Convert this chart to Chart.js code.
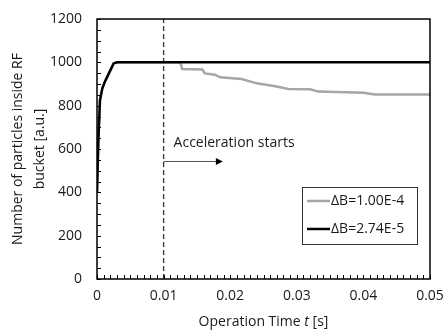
<!DOCTYPE html>
<html>
<head>
<meta charset="utf-8">
<script src="https://cdn.jsdelivr.net/npm/chart.js@4.4.0/dist/chart.umd.min.js"></script>
<style>
  html, body { margin: 0; padding: 0; background: #fff; }
</style>
</head>
<body>
<canvas id="particleChart" width="447" height="334"></canvas>
<script>
// ------------------- data -------------------
const timeSmallDB = [0, 0.0002, 0.00045, 0.0008, 0.0012, 0.0018, 0.0025, 0.003, 0.05];
const countSmallDB = [400, 640, 826, 880, 912, 950, 995, 1000, 1000];

const timeLargeDB = [0, 0.0002, 0.00045, 0.0008, 0.0012, 0.0018, 0.0025, 0.003, 0.0125, 0.0128,
  0.0158, 0.0162, 0.0177, 0.0185, 0.0217, 0.024, 0.027, 0.0287, 0.032, 0.0332, 0.04, 0.0417, 0.05];
const countLargeDB = [400, 640, 826, 880, 912, 950, 995, 1000, 1000, 969,
  967, 949, 943, 931, 923, 903, 888, 877, 876, 865, 860, 852, 852];

const seriesLabels = ["\u0394B=1.00E-4", "\u0394B=2.74E-5"];
const xTicks = [0, 0.01, 0.02, 0.03, 0.04, 0.05];
const yTicks = [0, 200, 400, 600, 800, 1000, 1200];
const accelStart = 0.01;

const FONT = "'Open Sans', sans-serif";
const FS = 14;

function toPoints(xs, ys) {
  return xs.map((x, i) => ({ x: x, y: ys[i] }));
}

// ticks pointing inward, plot frame, titles, arrow and legend
const decorPlugin = {
  id: "decor",
  afterDraw(chart) {
    const ctx = chart.ctx;
    const a = chart.chartArea;
    const xs = chart.scales.x;
    const ys = chart.scales.y;
    ctx.save();

    // minor/major ticks
    ctx.strokeStyle = "#000";
    ctx.lineWidth = 1;
    ctx.beginPath();
    for (let v = 0; v <= 1200; v += 50) {
      const py = Math.round(ys.getPixelForValue(v)) + 0.5;
      ctx.moveTo(a.left, py);
      ctx.lineTo(a.left + 4, py);
    }
    for (let k = 0; k <= 50; k++) {
      const px = Math.round(xs.getPixelForValue(k / 1000)) + 0.5;
      ctx.moveTo(px, a.bottom);
      ctx.lineTo(px, a.bottom - 4);
    }
    ctx.stroke();

    // frame
    ctx.lineWidth = 1.5;
    ctx.strokeRect(a.left, a.top, a.right - a.left, a.bottom - a.top);

    // axis titles
    ctx.fillStyle = "#1a1a1a";
    ctx.font = FS + "px " + FONT;
    ctx.textAlign = "center";
    ctx.textBaseline = "middle";
    const midY = (a.top + a.bottom) / 2;
    ctx.save();
    ctx.translate(18, midY);
    ctx.rotate(-Math.PI / 2);
    ctx.fillText("Number of particles inside RF", 0, 0);
    ctx.restore();
    ctx.save();
    ctx.translate(40, midY);
    ctx.rotate(-Math.PI / 2);
    ctx.fillText("bucket [a.u.]", 0, 0);
    ctx.restore();

    const t1 = "Operation Time ";
    const t2 = "t";
    const t3 = " [s]";
    ctx.textAlign = "left";
    const w1 = ctx.measureText(t1).width;
    ctx.font = "italic " + FS + "px " + FONT;
    const w2 = ctx.measureText(t2).width;
    ctx.font = FS + "px " + FONT;
    const w3 = ctx.measureText(t3).width;
    let tx = (a.left + a.right) / 2 - (w1 + w2 + w3) / 2;
    const ty = 322;
    ctx.fillText(t1, tx, ty);
    ctx.font = "italic " + FS + "px " + FONT;
    ctx.fillText(t2, tx + w1, ty);
    ctx.font = FS + "px " + FONT;
    ctx.fillText(t3, tx + w1 + w2, ty);

    // "Acceleration starts" note with arrow
    const ax0 = xs.getPixelForValue(accelStart);
    const ax1 = xs.getPixelForValue(0.0189);
    const ay = Math.round(ys.getPixelForValue(545)) + 0.5;
    ctx.fillText("Acceleration starts", xs.getPixelForValue(0.0115), ys.getPixelForValue(628));
    ctx.strokeStyle = "#555";
    ctx.lineWidth = 1;
    ctx.beginPath();
    ctx.moveTo(ax0, ay);
    ctx.lineTo(ax1 - 5, ay);
    ctx.stroke();
    ctx.fillStyle = "#000";
    ctx.beginPath();
    ctx.moveTo(ax1, ay);
    ctx.lineTo(ax1 - 7, ay - 3.5);
    ctx.lineTo(ax1 - 7, ay + 3.5);
    ctx.closePath();
    ctx.fill();

    // legend box
    const lx = 302, ly = 187, lw = 115, lh = 57;
    ctx.fillStyle = "#fff";
    ctx.fillRect(lx, ly, lw, lh);
    ctx.strokeStyle = "#333";
    ctx.lineWidth = 1;
    ctx.strokeRect(lx + 0.5, ly + 0.5, lw, lh);
    const rows = [201, 229];
    chart.data.datasets.forEach((ds, i) => {
      if (i > 1) return;
      ctx.strokeStyle = ds.borderColor;
      ctx.lineWidth = ds.borderWidth;
      ctx.beginPath();
      ctx.moveTo(lx + 5, rows[i]);
      ctx.lineTo(lx + 28, rows[i]);
      ctx.stroke();
      ctx.fillStyle = "#1a1a1a";
      ctx.font = FS + "px " + FONT;
      ctx.textAlign = "left";
      ctx.fillText(ds.label, lx + 29, rows[i]);
    });

    ctx.restore();
  }
};

new Chart(document.getElementById("particleChart").getContext("2d"), {
  type: "scatter",
  data: {
    datasets: [
      {
        label: seriesLabels[0],
        data: toPoints(timeLargeDB, countLargeDB),
        showLine: true,
        borderColor: "#a6a6a6",
        borderWidth: 2.5,
        pointRadius: 0,
        tension: 0,
        order: 2
      },
      {
        label: seriesLabels[1],
        data: toPoints(timeSmallDB, countSmallDB),
        showLine: true,
        borderColor: "#000000",
        borderWidth: 2.5,
        pointRadius: 0,
        tension: 0,
        order: 1
      },
      {
        label: "start",
        data: [{ x: accelStart, y: 0 }, { x: accelStart, y: 1200 }],
        showLine: true,
        borderColor: "#333333",
        borderWidth: 1.3,
        borderDash: [5, 3],
        pointRadius: 0,
        order: 3
      }
    ]
  },
  options: {
    responsive: false,
    animation: false,
    layout: { padding: { top: 19, right: 17, left: 0, bottom: 0 } },
    plugins: {
      legend: { display: false },
      tooltip: { enabled: false }
    },
    scales: {
      x: {
        type: "linear",
        min: 0,
        max: 0.05,
        afterBuildTicks: s => { s.ticks = xTicks.map(v => ({ value: v })); },
        afterFit: s => { s.height = 55; s.paddingLeft = 0; s.paddingRight = 0; },
        grid: { display: false, drawTicks: false },
        border: { display: false },
        ticks: {
          padding: 9,
          color: "#1a1a1a",
          font: { family: FONT, size: FS },
          callback: v => (v === 0 ? "0" : v.toFixed(2))
        }
      },
      y: {
        min: 0,
        max: 1200,
        afterBuildTicks: s => { s.ticks = yTicks.map(v => ({ value: v })); },
        afterFit: s => { s.width = 97; s.paddingTop = 0; s.paddingBottom = 0; },
        grid: { display: false, drawTicks: false },
        border: { display: false },
        ticks: {
          padding: 15,
          color: "#1a1a1a",
          font: { family: FONT, size: FS },
          callback: v => String(v)
        }
      }
    }
  },
  plugins: [decorPlugin]
});
</script>
</body>
</html>
